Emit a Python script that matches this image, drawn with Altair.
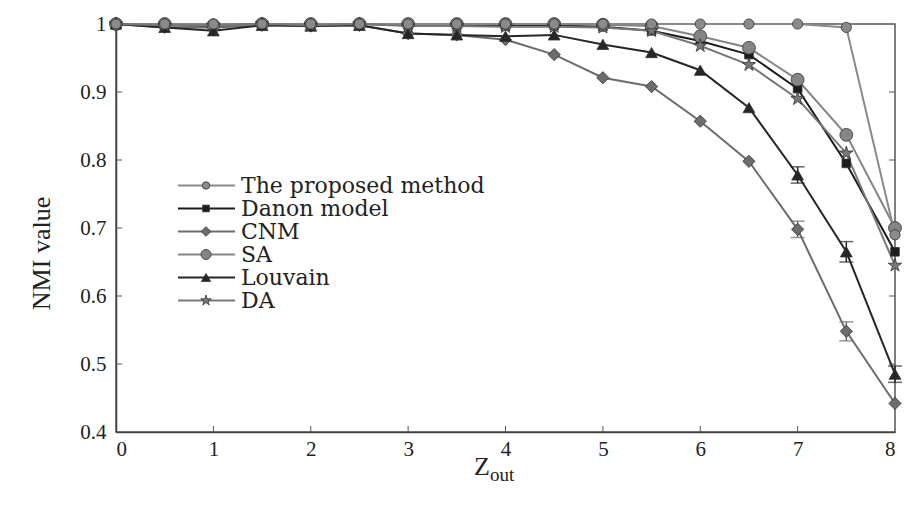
import altair as alt
import pandas as pd

# ---- data ----
x_vals = [0, 0.5, 1, 1.5, 2, 2.5, 3, 3.5, 4, 4.5, 5, 5.5, 6, 6.5, 7, 7.5, 8]
names = ["The proposed method", "Danon model", "CNM", "SA", "Louvain", "DA"]

proposed = [1, 1, 1, 1, 1, 1, 1, 1, 1, 1, 1, 1, 1, 1, 1, 0.995, 0.69]
danon = [1, 0.998, 0.997, 1, 0.998, 1, 0.998, 0.998, 0.997, 0.998, 0.996, 0.99, 0.975, 0.955, 0.905, 0.795, 0.665]
cnm = [1, 0.995, 0.995, 0.998, 0.997, 0.998, 0.986, 0.984, 0.977, 0.955, 0.921, 0.908, 0.857, 0.798, 0.698, 0.548, 0.442]
sa = [1, 1, 0.998, 1, 1, 1, 1, 1, 1, 1, 0.999, 0.997, 0.982, 0.965, 0.918, 0.837, 0.70]
louvain = [1, 0.995, 0.99, 0.998, 0.997, 0.998, 0.986, 0.984, 0.982, 0.984, 0.97, 0.958, 0.932, 0.877, 0.778, 0.665, 0.485]
da = [1, 0.998, 0.998, 1, 0.998, 1, 0.997, 0.997, 0.996, 0.996, 0.995, 0.99, 0.968, 0.94, 0.89, 0.81, 0.645]

# error half-widths (0 = none visible)
cnm_err = [0, 0, 0, 0, 0, 0, 0, 0, 0, 0, 0, 0, 0, 0, 0.012, 0.014, 0]
louvain_err = [0, 0, 0, 0, 0, 0, 0, 0, 0, 0, 0, 0, 0, 0, 0.012, 0.015, 0.012]

y_ticks = [0.4, 0.5, 0.6, 0.7, 0.8, 0.9, 1.0]
x_ticks = [0, 1, 2, 3, 4, 5, 6, 7, 8]
inner_y_ticks = [0.5, 0.6, 0.7, 0.8, 0.9]
inner_x_ticks = [1, 2, 3, 4, 5, 6, 7]

series_vals = [proposed, danon, cnm, sa, louvain, da]
series_err = {"CNM": cnm_err, "Louvain": louvain_err}

# ---- styles ----
colors = ["#8a8a8a", "#1c1c1c", "#6c6c6c", "#858585", "#262626", "#787878"]
star = "M0,-1L0.2245,-0.309L0.951,-0.309L0.363,0.118L0.588,0.809L0,0.382L-0.588,0.809L-0.363,0.118L-0.951,-0.309L-0.2245,-0.309Z"
shapes = ["circle", "square", "diamond", "circle", "triangle-up", star]
sizes = [105, 75, 150, 165, 140, 200]
leg_sizes = [55, 45, 95, 100, 85, 120]

W, H = 779, 408
SERIF = "Liberation Serif"

rows = []
for n, vals in zip(names, series_vals):
    for xv, yv in zip(x_vals, vals):
        rows.append({"series": n, "x": xv, "y": yv})
df = pd.DataFrame(rows)

err_rows = []
for n, errs in series_err.items():
    vals = series_vals[names.index(n)]
    for xv, yv, e in zip(x_vals, vals, errs):
        if e > 0:
            err_rows.append({"series": n, "x": xv, "lo": yv - e, "hi": yv + e})
err_df = pd.DataFrame(err_rows)

color_enc = alt.Color("series:N", scale=alt.Scale(domain=names, range=colors), legend=None)

xs = alt.Scale(domain=[0, 8], nice=False, zero=False)
ys = alt.Scale(domain=[0.4, 1.0], nice=False, zero=False)

x_axis = alt.Axis(values=x_ticks, format="d", ticks=False, grid=False, labelFont=SERIF,
                  labelFontSize=21, labelColor="#222", labelPadding=6, domainColor="#444",
                  domainWidth=1.5, title=None)
y_axis = alt.Axis(values=y_ticks, ticks=False, grid=False, labelFont=SERIF, labelFontSize=21,
                  labelColor="#222", labelPadding=10, domainColor="#444", domainWidth=1.5,
                  labelExpr="datum.value == 1 ? '1' : format(datum.value, '.1f')",
                  title="NMI value", titleFont=SERIF, titleFontSize=26, titleFontWeight="normal",
                  titleColor="#222", titleX=-62, titleY=229, titleAlign="center",
                  titleBaseline="bottom", titleAngle=270)

base = alt.Chart(df)
lines = base.mark_line(strokeWidth=2).encode(
    x=alt.X("x:Q", scale=xs, axis=x_axis),
    y=alt.Y("y:Q", scale=ys, axis=y_axis),
    color=color_enc,
)

point_layers = []
for n, shp, sz in zip(names, shapes, sizes):
    point_layers.append(
        base.transform_filter(alt.datum.series == n)
        .mark_point(filled=True, opacity=1, shape=shp, size=sz, stroke="#333", strokeWidth=0.8)
        .encode(x="x:Q", y="y:Q", color=color_enc)
    )
# draw the proposed method last so it sits on top of the 1.0 line
point_layers = point_layers[1:] + point_layers[:1]

eb = alt.Chart(err_df)
err_rule = eb.mark_rule(strokeWidth=1.5).encode(x="x:Q", y="lo:Q", y2="hi:Q", color=color_enc)
err_lo = eb.mark_tick(orient="horizontal", size=14, thickness=1.5).encode(x="x:Q", y="lo:Q", color=color_enc)
err_hi = eb.mark_tick(orient="horizontal", size=14, thickness=1.5).encode(x="x:Q", y="hi:Q", color=color_enc)

ty = alt.Chart(pd.DataFrame({"v": inner_y_ticks}))
left_ticks = ty.mark_rule(color="#555", strokeWidth=1).encode(y="v:Q", x=alt.value(0), x2=alt.value(6))
right_ticks = ty.mark_rule(color="#555", strokeWidth=1).encode(y="v:Q", x=alt.value(W - 6), x2=alt.value(W))
tx = alt.Chart(pd.DataFrame({"v": inner_x_ticks}))
bottom_ticks = tx.mark_rule(color="#555", strokeWidth=1).encode(x="v:Q", y=alt.value(H), y2=alt.value(H - 6))

z_df = pd.DataFrame({"t": ["Z"]})
out_df = pd.DataFrame({"t": ["out"]})
z_title = alt.Chart(z_df).mark_text(font=SERIF, fontSize=26, align="right", baseline="alphabetic", color="#222").encode(
    x=alt.value(374), y=alt.value(451), text="t:N")
out_title = alt.Chart(out_df).mark_text(font=SERIF, fontSize=19, align="left", baseline="alphabetic", color="#222").encode(
    x=alt.value(374), y=alt.value(457), text="t:N")

data_layers = alt.layer(left_ticks, right_ticks, bottom_ticks, lines, err_rule, err_lo, err_hi,
                        *point_layers, z_title, out_title)

leg_df = pd.DataFrame({"series": names})
leg_y = alt.Y("series:N", scale=alt.Scale(domain=names, range=[150, 288]), axis=None)
lb = alt.Chart(leg_df)
leg_line = lb.mark_rule(strokeWidth=2).encode(y=leg_y, x=alt.value(62), x2=alt.value(119), color=color_enc)
leg_pts = []
for n, shp, sz in zip(names, shapes, leg_sizes):
    leg_pts.append(
        lb.transform_filter(alt.datum.series == n)
        .mark_point(filled=True, opacity=1, shape=shp, size=sz, stroke="#333", strokeWidth=0.8)
        .encode(y=leg_y, x=alt.value(90), color=color_enc)
    )
leg_txt = lb.mark_text(align="left", baseline="middle", font="DejaVu Serif", fontSize=22, color="#222").encode(
    y=leg_y, x=alt.value(125), text="series:N")
legend_layers = alt.layer(leg_line, *leg_pts, leg_txt)

chart = alt.layer(data_layers, legend_layers).resolve_scale(y="independent").properties(
    width=W, height=H,
    autosize=alt.AutoSizeParams(type="none"),
    padding={"left": 116, "top": 24, "right": 10, "bottom": 77},
    background="white",
).configure_view(stroke="#555", strokeWidth=1.5)

chart.save("out.html", embed_options={"renderer": "svg", "actions": False})
